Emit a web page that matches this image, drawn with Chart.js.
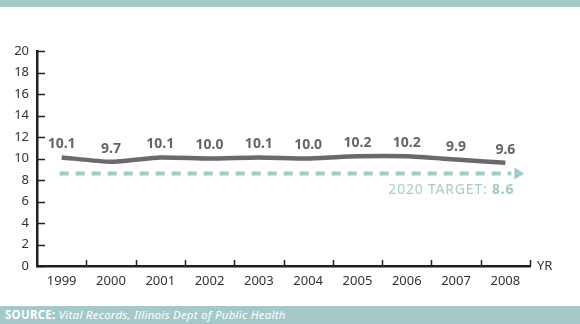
<!DOCTYPE html>
<html>
<head>
<meta charset="utf-8">
<script src="https://cdn.jsdelivr.net/npm/chart.js@4/dist/chart.umd.min.js"></script>
<style>
  html, body { margin: 0; padding: 0; background: #fff; }
  #wrap { position: relative; width: 580px; height: 324px; overflow: hidden; }
  #topbar { position: absolute; left: 0; top: 0; width: 580px; height: 7px; background: #a3c9c9; }
  #source {
    position: absolute; left: 0; top: 306px; width: 580px; height: 18px;
    background: #a3c9c9; color: #fff; font: 11.5px "Noto Sans", sans-serif;
    letter-spacing: 0.25px;
    line-height: 18px; padding-left: 5px; box-sizing: border-box; white-space: nowrap;
  }
  #source b { font-weight: bold; }
  canvas { position: absolute; left: 0; top: 0; }
</style>
</head>
<body>
<div id="wrap">
  <canvas id="myChart" width="580" height="324"></canvas>
  <div id="topbar"></div>
  <div id="source"><b>SOURCE:</b> <i>Vital Records, Illinois Dept of Public Health</i></div>
</div>
<script>
let years = ['1999', '2000', '2001', '2002', '2003', '2004', '2005', '2006', '2007', '2008'];
let rates = [10.1, 9.7, 10.1, 10.0, 10.1, 10.0, 10.2, 10.2, 9.9, 9.6];
let yTicks = [0, 2, 4, 6, 8, 10, 12, 14, 16, 18, 20];
let targetYear = '2020';
let target = 8.6;

const FONT = '"Noto Sans", sans-serif';
const TEAL = '#a3c9c9';
const AXIS = '#231f20';

// inward tick marks, value labels, target arrow and the YR label
const extras = {
  id: 'extras',
  afterDatasetsDraw(chart) {
    let ctx = chart.ctx;
    let x = chart.scales.x;
    let y = chart.scales.y;
    ctx.save();

    // target line
    let ty = y.getPixelForValue(target);
    let x0 = x.getPixelForValue(0) - 2;
    let x1 = x.getPixelForValue(years.length - 1) + 6;
    ctx.strokeStyle = TEAL;
    ctx.lineWidth = 4;
    ctx.setLineDash([9, 7]);
    ctx.beginPath();
    ctx.moveTo(x0, ty);
    ctx.lineTo(x1, ty);
    ctx.stroke();
    ctx.setLineDash([]);
    ctx.fillStyle = TEAL;
    ctx.beginPath();
    ctx.moveTo(x1 + 3, ty - 6);
    ctx.lineTo(x1 + 13, ty);
    ctx.lineTo(x1 + 3, ty + 6);
    ctx.closePath();
    ctx.fill();

    // target caption, right aligned
    ctx.textBaseline = 'middle';
    ctx.textAlign = 'right';
    ctx.letterSpacing = '0.8px';
    ctx.font = 'bold 14px ' + FONT;
    let val = target.toFixed(1);
    let vw = ctx.measureText(val).width;
    let cx = x1 + 3;
    ctx.fillText(val, cx, ty + 16);
    ctx.font = '14px ' + FONT;
    ctx.fillStyle = '#aacccc';
    ctx.fillText(targetYear + ' TARGET: ', cx - vw, ty + 16);
    ctx.letterSpacing = '0px';

    // value labels above the line
    ctx.fillStyle = '#666668';
    ctx.textAlign = 'center';
    ctx.font = 'bold 14px ' + FONT;
    rates.forEach((v, i) => {
      ctx.fillText(v.toFixed(1), x.getPixelForValue(i), y.getPixelForValue(v) - 13);
    });

    // tick marks pointing into the plot
    ctx.strokeStyle = AXIS;
    ctx.lineWidth = 1.5;
    yTicks.forEach(t => {
      let py = Math.round(y.getPixelForValue(t)) + 0.5;
      ctx.beginPath();
      ctx.moveTo(x.left, py);
      ctx.lineTo(x.left + 8, py);
      ctx.stroke();
    });
    let step = x.width / years.length;
    for (let i = 1; i <= years.length; i++) {
      let px = Math.round(x.left + i * step) + 0.5;
      ctx.beginPath();
      ctx.moveTo(px, y.bottom);
      ctx.lineTo(px, y.bottom - 6);
      ctx.stroke();
    }

    ctx.fillStyle = '#333';
    ctx.textAlign = 'left';
    ctx.font = '13px ' + FONT;
    ctx.fillText('YR', x.right + 7, y.bottom);
    ctx.restore();
  }
};

let ctx = document.getElementById('myChart');
let myChart = new Chart(ctx, {
  type: 'line',
  data: {
    labels: years,
    datasets: [
      {
        data: rates,
        borderColor: '#6a6a6c',
        borderWidth: 4.5,
        pointRadius: 0,
        tension: 0.2,
        fill: false
      }
    ]
  },
  options: {
    responsive: false,
    animation: false,
    events: [],
    layout: { padding: { top: 51, right: 50, left: 0, bottom: 0 } },
    plugins: { legend: { display: false }, tooltip: { enabled: false } },
    scales: {
      x: {
        type: 'category',
        offset: true,
        grid: { display: true, drawOnChartArea: false, drawTicks: false, offset: true, color: 'rgba(0,0,0,0)' },
        border: { display: true, color: AXIS, width: 2.5 },
        ticks: { color: '#333', font: { family: FONT, size: 13 }, padding: 7, maxRotation: 0 },
        afterFit(scale) { scale.height = 58; }
      },
      y: {
        min: 0,
        max: 20,
        afterBuildTicks(scale) { scale.ticks = yTicks.map(v => ({ value: v })); },
        grid: { display: true, drawOnChartArea: false, drawTicks: false, color: 'rgba(0,0,0,0)' },
        border: { display: true, color: AXIS, width: 2.5 },
        ticks: { color: '#333', font: { family: FONT, size: 13 }, padding: 8 },
        afterFit(scale) { scale.width = 37; }
      }
    }
  },
  plugins: [extras]
});
</script>
</body>
</html>
